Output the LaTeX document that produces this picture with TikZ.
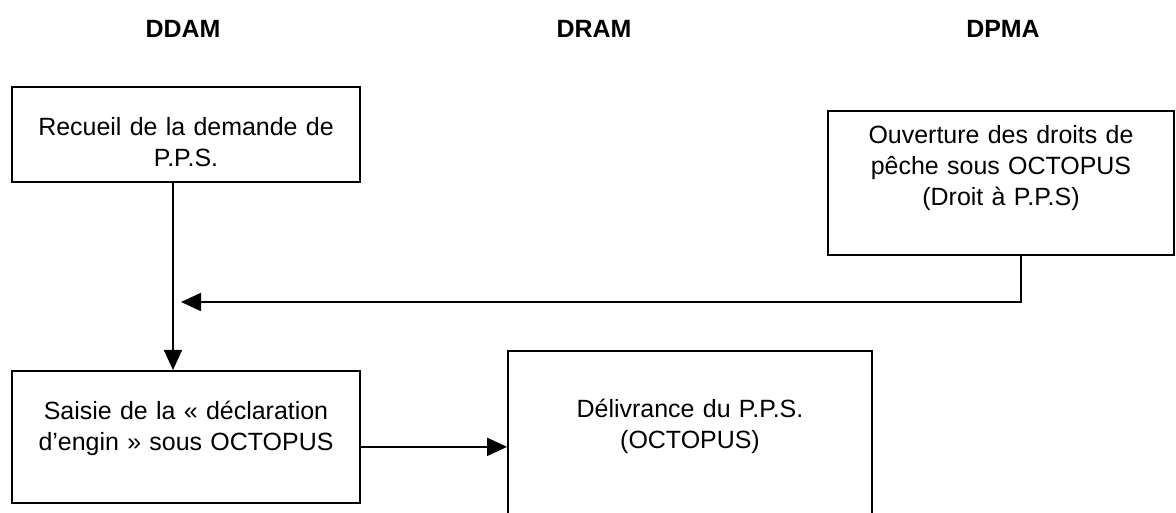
\documentclass[tikz,border=0pt]{standalone}
\usepackage{fontspec}
\setmainfont{Liberation Sans}
\usetikzlibrary{arrows.meta}

\begin{document}
\begin{tikzpicture}[
		box/.style={draw, line width=1pt, align=center, inner sep=0pt},
		heading/.style={anchor=base, font=\fontsize{14.2}{17.6}\selectfont\bfseries},
		>={Triangle[length=0.4cm, width=0.36cm]},
		font=\fontsize{14.2}{17.6}\selectfont
	]
		\useasboundingbox (0,0) rectangle (23.52,10.26);

		% Draw headings
		\node[heading] (ddam) at (3.66,9.5) {DDAM};
		\node[heading] (dram) at (11.88,9.5) {DRAM};
		\node[heading] (dpma) at (20.06,9.5) {DPMA};

		% Draw boxes
		\node[box, anchor=north, text width=6.96cm, text height=0.98cm, text depth=0.92cm] (recueil) at (3.72,8.54) {Recueil de la demande de\\P.P.S.};
		\node[box, anchor=north, text width=6.92cm, text height=0.66cm, text depth=2.22cm] (ouverture) at (20.02,8.06) {Ouverture des droits de\\pêche sous OCTOPUS\\(Droit à P.P.S)};
		\node[box, anchor=north, text width=6.96cm, text height=0.98cm, text depth=1.66cm] (saisie) at (3.72,2.86) {Saisie de la « déclaration\\d’engin » sous OCTOPUS};
		\node[box, anchor=north, text width=7.28cm, text height=1.34cm, text depth=2.26cm] (delivrance) at (13.8,3.26) {Délivrance du P.P.S.\\(OCTOPUS)};
		\coordinate (join) at (3.62,4.22);

		% Draw arrows
		\draw[line width=1pt, ->] ([xshift=-0.26cm]recueil.south) -- ([xshift=-0.26cm]recueil.south |- saisie.north);
		\draw[line width=1pt, ->] ([xshift=0.4cm]ouverture.south) |- (join);
		\draw[line width=1pt, ->] ([yshift=-0.2cm]saisie.east) -- ([yshift=-0.2cm]saisie.east -| delivrance.west);
	\end{tikzpicture}
\end{document}
